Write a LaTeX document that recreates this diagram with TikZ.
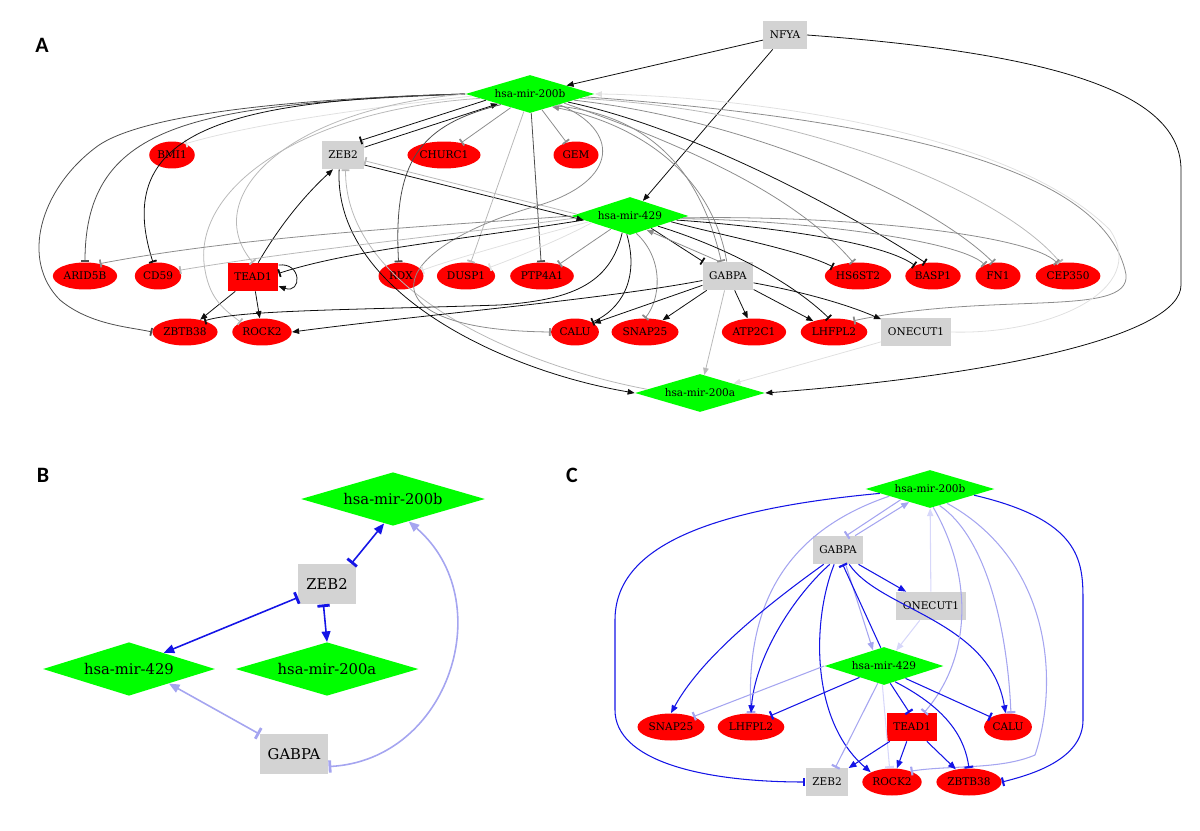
\documentclass[tikz,border=0pt]{standalone}
\usepackage{fontspec}
\setmainfont{DejaVu Serif}
\newfontfamily\panelfont{Carlito}
\usetikzlibrary{shapes.geometric,arrows.meta}
\definecolor{mirgreen}{RGB}{0,255,0}
\definecolor{genered}{RGB}{255,0,0}
\definecolor{tfgray}{RGB}{211,211,211}
\definecolor{ek}{gray}{0.05}
\definecolor{ed}{gray}{0.3}
\definecolor{em}{gray}{0.55}
\definecolor{el}{gray}{0.72}
\definecolor{ef}{gray}{0.88}
\definecolor{bd}{RGB}{20,20,230}
\definecolor{bl}{RGB}{165,165,240}
\definecolor{bf}{RGB}{215,215,250}
\begin{document}
\begin{tikzpicture}[x=0.02cm,y=-0.02cm,
    gene/.style={ellipse,fill=genered,inner xsep=0.8pt,inner ysep=0pt,minimum width=0.9cm,minimum height=0.54cm,font=\fontsize{6}{7}\selectfont},
    tf/.style={rectangle,fill=tfgray,inner xsep=3.7pt,inner ysep=0pt,minimum height=0.56cm,font=\fontsize{6}{7}\selectfont},
    tfred/.style={tf,fill=genered},
    mir/.style={diamond,fill=mirgreen,aspect=3.4,inner sep=0pt,minimum height=0.76cm,font=\fontsize{6}{7}\selectfont},
    tfbig/.style={rectangle,fill=tfgray,inner xsep=4.5pt,inner ysep=0pt,minimum height=0.8cm,font=\fontsize{8.4}{10}\selectfont},
    mirbig/.style={diamond,fill=mirgreen,aspect=3.4,inner sep=0pt,minimum height=1.07cm,font=\fontsize{8.4}{10}\selectfont},
    panel/.style={inner sep=0pt,font=\panelfont\bfseries\fontsize{12.5}{14}\selectfont},
    act/.style={line width=0.45pt,-{Triangle[length=4pt,width=3.2pt]}},
    inh/.style={line width=0.45pt,-{Rectangle[length=1pt,width=4.5pt]}},
    cact/.style={line width=0.6pt,-{Triangle[length=4.5pt,width=3.6pt]}},
    cinh/.style={line width=0.6pt,-{Rectangle[length=1.2pt,width=5pt]}},
    bboth/.style={line width=0.9pt,{Rectangle[length=1.6pt,width=7pt]}-{Triangle[length=6pt,width=5pt]}}]
\useasboundingbox (0,0) rectangle (1200,831);

\node[panel] (labA) at (42,45) {A};
\node[panel] (labB) at (43,475) {B};
\node[panel] (labC) at (572,475) {C};

\node[tf] (ANFYA) at (785,35) {NFYA};
\node[mir,minimum width=2.58cm] (A200b) at (530,94) {hsa-mir-200b};
\node[gene] (ABMI1) at (172,155) {BMI1};
\node[tf] (AZEB2) at (343,155) {ZEB2};
\node[gene] (ACHURC1) at (444,155) {CHURC1};
\node[gene] (AGEM) at (576,155) {GEM};
\node[mir,minimum width=2.34cm] (A429) at (630,216) {hsa-mir-429};
\node[gene] (AARID5B) at (85,276) {ARID5B};
\node[gene] (ACD59) at (158,276) {CD59};
\node[tfred] (ATEAD1) at (253,277) {TEAD1};
\node[gene] (ARDX) at (401,276) {RDX};
\node[gene] (ADUSP1) at (466,276) {DUSP1};
\node[gene] (APTP4A1) at (542,276) {PTP4A1};
\node[tf] (AGABPA) at (728,276) {GABPA};
\node[gene] (AHS6ST2) at (858,276) {HS6ST2};
\node[gene] (ABASP1) at (933,276) {BASP1};
\node[gene] (AFN1) at (998,276) {FN1};
\node[gene] (ACEP350) at (1068,276) {CEP350};
\node[gene] (AZBTB38) at (185,332) {ZBTB38};
\node[gene] (AROCK2) at (262,332) {ROCK2};
\node[gene] (ACALU) at (575,332) {CALU};
\node[gene] (ASNAP25) at (645,332) {SNAP25};
\node[gene] (AATP2C1) at (754,332) {ATP2C1};
\node[gene] (ALHFPL2) at (834,332) {LHFPL2};
\node[tf] (AONECUT1) at (916,332) {ONECUT1};
\node[mir,minimum width=2.6cm] (A200a) at (700,393) {hsa-mir-200a};

\draw[act,ek] (ANFYA) -- (A200b);
\draw[act,ek] (ANFYA) -- (A429);
\draw[act,ek] (ANFYA.east) .. controls (1080,55) and (1181,100) .. (1181,170) -- (1181,285) .. controls (1181,335) and (1000,375) .. (A200a.east);
\draw[inh,ek] (A200b.188) -- (AZEB2.40);
\draw[act,ek] (AZEB2.20) -- (A200b.197);
\draw[act,ek] (AZEB2.-25) -- (A429.185);
\draw[inh,el] (A429.178) -- (AZEB2.-15);
\draw[act,ek] (AZEB2.-105) .. controls (333,290) and (500,370) .. (A200a.west);
\draw[inh,el] (A200a.176) .. controls (505,362) and (345,285) .. (AZEB2.-80);
\draw[act,ek] (ATEAD1.70) .. controls (280,225) and (305,195) .. (AZEB2.235);
\draw[act,ek] (ATEAD1.25) .. controls (302,262) and (302,294) .. (ATEAD1.-20);
\draw[act,ek] (ATEAD1) -- (AZBTB38);
\draw[act,ek] (ATEAD1) -- (AROCK2);
\draw[inh,ef] (A200b.182) .. controls (350,110) and (250,125) .. (ABMI1.40);
\draw[inh,em] (A200b) -- (ACHURC1);
\draw[inh,em] (A200b) -- (AGEM);
\draw[inh,ed] (A200b.west) .. controls (200,105) and (85,120) .. (AARID5B.north);
\draw[inh,ek] (A200b.west) .. controls (230,100) and (110,130) .. (ACD59.110);
\draw[inh,ed] (A200b.west) .. controls (250,100) and (130,120) .. (95,148) .. controls (40,190) and (20,260) .. (60,300) .. controls (90,325) and (130,327) .. (AZBTB38.west);
\draw[inh,el] (A200b.west) .. controls (280,110) and (200,200) .. (ATEAD1.north);
\draw[inh,el] (A200b.185) .. controls (300,110) and (190,190) .. (205,270) .. controls (210,300) and (225,310) .. (AROCK2.north west);
\draw[inh,ed] (A200b.200) .. controls (420,125) and (393,160) .. (ARDX.100);
\draw[inh,el] (A200b) -- (ADUSP1);
\draw[inh,ed] (A200b) -- (APTP4A1);
\draw[inh,em] (A200b.-20) .. controls (620,130) and (620,180) .. (540,205) .. controls (380,250) and (360,330) .. (ACALU.west);
\draw[inh,em] (A200b.-15) .. controls (700,150) and (800,200) .. (AHS6ST2.110);
\draw[inh,ek] (A200b.-12) .. controls (700,130) and (860,220) .. (ABASP1.120);
\draw[inh,em] (A200b.-8) .. controls (750,120) and (930,200) .. (AFN1.110);
\draw[inh,el] (A200b.-5) .. controls (800,110) and (1000,190) .. (ACEP350.120);
\draw[inh,em] (A200b.-25) .. controls (650,115) and (700,170) .. (AGABPA.115);
\draw[act,em] (AGABPA.95) .. controls (712,175) and (640,125) .. (A200b.-30);
\draw[inh,em] (A200b.-3) .. controls (900,120) and (1100,170) .. (1125,270) .. controls (1140,320) and (1000,290) .. (ALHFPL2.30);
\draw[act,ef] (AONECUT1.east) .. controls (1050,335) and (1150,290) .. (1110,230) .. controls (1000,120) and (700,95) .. (A200b.east);
\draw[inh,em] (A429.west) .. controls (450,225) and (250,235) .. (AARID5B.40);
\draw[inh,el] (A429.182) .. controls (450,235) and (300,250) .. (ACD59.15);
\draw[inh,ek] (A429.185) .. controls (460,240) and (350,250) .. (ATEAD1.8);
\draw[inh,ef] (A429.190) .. controls (560,240) and (510,260) .. (ADUSP1.20);
\draw[inh,ef] (A429.188) .. controls (520,240) and (450,260) .. (ARDX.15);
\draw[inh,em] (A429) -- (APTP4A1);
\draw[inh,ek] (A429.-30) -- (AGABPA.150);
\draw[act,em] (AGABPA.120) -- (A429.-40);
\draw[inh,ek] (A429.-8) .. controls (720,235) and (800,250) .. (AHS6ST2.160);
\draw[inh,ek] (A429.-5) .. controls (750,225) and (880,240) .. (ABASP1.150);
\draw[inh,em] (A429.-3) .. controls (800,220) and (960,240) .. (AFN1.140);
\draw[inh,em] (A429.-2) .. controls (850,215) and (1030,235) .. (ACEP350.130);
\draw[inh,ek] (A429.-20) .. controls (720,245) and (790,280) .. (ALHFPL2.110);
\draw[inh,em] (A429.-70) .. controls (665,260) and (660,300) .. (ASNAP25.north);
\draw[inh,ek] (A429.-100) .. controls (640,280) and (620,310) .. (ACALU.30);
\draw[inh,ek] (A429.-115) .. controls (610,285) and (570,300) .. (500,305) .. controls (350,310) and (240,310) .. (AZBTB38.30);
\draw[act,ek] (AGABPA.190) .. controls (600,300) and (420,315) .. (AROCK2.east);
\draw[act,ek] (AGABPA.200) -- (ACALU.25);
\draw[act,ek] (AGABPA) -- (ASNAP25);
\draw[act,ek] (AGABPA) -- (AATP2C1);
\draw[act,ek] (AGABPA) -- (ALHFPL2);
\draw[act,ek] (AGABPA.-15) .. controls (820,295) and (860,310) .. (AONECUT1.160);
\draw[act,el] (AGABPA) -- (A200a);
\draw[act,ef] (AONECUT1) -- (A200a);

\node[mirbig,minimum width=3.68cm] (B200b) at (393,499) {hsa-mir-200b};
\node[tfbig] (BZEB2) at (327,584) {ZEB2};
\node[mirbig,minimum width=3.44cm] (B429) at (129,669) {hsa-mir-429};
\node[mirbig,minimum width=3.66cm] (B200a) at (327,669) {hsa-mir-200a};
\node[tfbig] (BGABPA) at (294,754) {GABPA};

\draw[bboth,bd] (BZEB2.40) -- (B200b.-110);
\draw[bboth,bd] (BZEB2.205) -- (B429.25);
\draw[bboth,bd] (BZEB2.-100) -- (B200a.north);
\draw[bboth,bl] (BGABPA.150) -- (B429.-20);
\draw[bboth,bl] (BGABPA.-20) .. controls (450,760) and (500,600) .. (B200b.-55);

\node[mir,minimum width=2.58cm] (C200b) at (930,489) {hsa-mir-200b};
\node[tf] (CGABPA) at (838,550) {GABPA};
\node[tf] (CONECUT1) at (931,606) {ONECUT1};
\node[mir,minimum width=2.38cm] (C429) at (884,666) {hsa-mir-429};
\node[gene] (CSNAP25) at (671,727) {SNAP25};
\node[gene] (CLHFPL2) at (751,727) {LHFPL2};
\node[tfred] (CTEAD1) at (912,727) {TEAD1};
\node[gene] (CCALU) at (1008,727) {CALU};
\node[tf] (CZEB2) at (827,782) {ZEB2};
\node[gene] (CROCK2) at (892,782) {ROCK2};
\node[gene] (CZBTB38) at (969,782) {ZBTB38};

\draw[cinh,bl] (C200b.200) -- (CGABPA.60);
\draw[cact,bl] (CGABPA.40) -- (C200b.212);
\draw[cinh,bd] (C200b.185) .. controls (700,510) and (615,550) .. (615,620) -- (615,710) .. controls (615,760) and (700,782) .. (CZEB2.west);
\draw[cinh,bl] (C200b.190) .. controls (790,530) and (745,600) .. (CLHFPL2.north);
\draw[cact,bd] (CGABPA.225) .. controls (760,610) and (700,660) .. (CSNAP25.north);
\draw[cact,bd] (CGABPA.240) .. controls (790,600) and (755,660) .. (CLHFPL2.north);
\draw[cact,bd] (CGABPA.255) .. controls (812,620) and (810,720) .. (CROCK2.north west);
\draw[cact,bd] (CGABPA.-35) -- (CONECUT1.150);
\draw[cact,bl] (CGABPA.-62) -- (C429.125);
\draw[cinh,bd] (C429.100) -- (CGABPA.-72);
\draw[cact,bd] (CGABPA.-52) .. controls (880,610) and (990,620) .. (CCALU.100);
\draw[cact,bf] (CONECUT1) -- (C429);
\draw[cact,bf] (CONECUT1) -- (C200b);
\draw[cinh,bl] (C200b.-80) .. controls (975,580) and (970,660) .. (CTEAD1.50);
\draw[cinh,bl] (C200b.-60) .. controls (990,540) and (1008,640) .. (CCALU.78);
\draw[cinh,bl] (C200b.-40) .. controls (1050,560) and (1060,680) .. (1035,755) .. controls (1000,770) and (950,765) .. (CROCK2.30);
\draw[cinh,bd] (C200b.-8) .. controls (1080,520) and (1083,560) .. (1083,600) -- (1083,720) .. controls (1083,760) and (1030,775) .. (CZBTB38.east);
\draw[cinh,bl] (C429.west) -- (CSNAP25.25);
\draw[cinh,bd] (C429.205) -- (CLHFPL2.30);
\draw[cinh,bd] (C429.-70) -- (CTEAD1.100);
\draw[cinh,bd] (C429.-30) -- (CCALU.150);
\draw[cinh,bd] (C429.-55) .. controls (950,710) and (965,740) .. (CZBTB38.north);
\draw[cinh,bl] (C429.-110) -- (CZEB2.60);
\draw[cinh,bf] (C429.-95) -- (CROCK2.100);
\draw[cact,bd] (CTEAD1) -- (CZEB2);
\draw[cact,bd] (CTEAD1) -- (CROCK2);
\draw[cact,bd] (CTEAD1) -- (CZBTB38);
\end{tikzpicture}
\end{document}
